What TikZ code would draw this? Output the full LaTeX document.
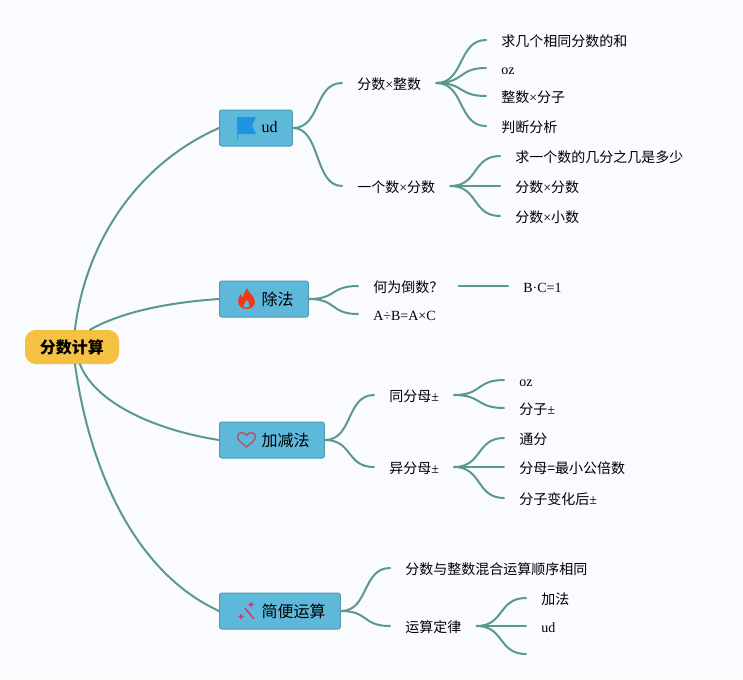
\documentclass[tikz,border=0pt]{standalone}
\usepackage{fontspec}
\setmainfont{Liberation Serif}
\newfontfamily\cjk{Noto Sans CJK SC}
\newcommand{\zh}[1]{{\cjk #1}}
\definecolor{bgc}{HTML}{F9FBFF}
\definecolor{edgec}{HTML}{5B9A8B}
\definecolor{boxc}{HTML}{5DB8DA}
\definecolor{boxl}{HTML}{4F9BAE}
\definecolor{rootc}{HTML}{F5C143}
\tikzset{
  x=0.75pt,y=-0.75pt,
  edge/.style={draw=edgec,line width=1.5pt,line cap=round},
  topic/.style={anchor=west,inner xsep=11.25pt,inner ysep=0pt,text height=11pt,text depth=1.5pt,font=\fontsize{10.5}{12}\selectfont,text=black},
  boxn/.style={anchor=west,rectangle,rounded corners=1.8pt,fill=boxc,draw=boxl,line width=0.75pt,minimum height=27pt,inner xsep=0pt,inner ysep=0pt,font=\fontsize{12}{14}\selectfont,text=black},
  rootn/.style={rectangle,rounded corners=8pt,fill=rootc,minimum width=70.5pt,minimum height=25.5pt,inner sep=0pt,font=\fontsize{12}{14}\selectfont\bfseries,text=black},
}
\newcommand{\boxt}[1]{\hspace*{31.5pt}#1\hspace*{11.2pt}}
\newcommand{\conn}[2]{\draw[edge] (#1) .. controls +(28,0) and +(-28,0) .. (#2);}
\begin{document}
\begin{tikzpicture}
\path[use as bounding box,fill=bgc] (0,0) rectangle (743,679);

\node[rootn] (root) at (72,347) {\cjk\bfseries 分数计算};
\node[boxn] (ud) at (219,128) {\boxt{\raisebox{2pt}{ud}}};
\node[boxn] (chu) at (219,299) {\boxt{\zh{除法}}};
\node[boxn] (jia) at (219,440) {\boxt{\zh{加减法}}};
\node[boxn] (jian) at (219,611) {\boxt{\zh{简便运算}}};

\coordinate (r1) at ([xshift=2.2pt]root.north);
\coordinate (r2) at ([xshift=13.5pt]root.north);
\coordinate (r3) at ([xshift=6pt]root.south);
\coordinate (r4) at ([xshift=2.25pt]root.south);
\draw[edge] (r1) .. controls (85,245) and (135,165) .. (ud.west);
\draw[edge] (r2) .. controls (125,310) and (175,302) .. (chu.west);
\draw[edge] (r3) .. controls (95,403) and (155,430) .. (jia.west);
\draw[edge] (r4) .. controls (88,460) and (130,570) .. (jian.west);

% second level
\node[topic] (a) at (342,83) {\zh{分数}×\zh{整数}};
\node[topic] (b) at (342,186) {\zh{一个数}×\zh{分数}};
\node[topic] (c) at (358,286) {\zh{何为倒数？}};
\node[topic] (d) at (358,314) {A÷B=A×C};
\node[topic] (e) at (374,395) {\zh{同分母}±};
\node[topic] (f) at (374,467) {\zh{异分母}±};
\node[topic] (g) at (390,568) {\zh{分数与整数混合运算顺序相同}};
\node[topic] (h) at (390,626) {\zh{运算定律}};

\conn{ud.east}{a.west}
\conn{ud.east}{b.west}
\conn{chu.east}{c.west}
\conn{chu.east}{d.west}
\conn{jia.east}{e.west}
\conn{jia.east}{f.west}
\conn{jian.east}{g.west}
\conn{jian.east}{h.west}

% leaves
\node[topic] (a1) at (486,40) {\zh{求几个相同分数的和}};
\node[topic] (a2) at (486,68) {oz};
\node[topic] (a3) at (486,96) {\zh{整数}×\zh{分子}};
\node[topic] (a4) at (486,126) {\zh{判断分析}};
\node[topic] (b1) at (500,156) {\zh{求一个数的几分之几是多少}};
\node[topic] (b2) at (500,186) {\zh{分数}×\zh{分数}};
\node[topic] (b3) at (500,216) {\zh{分数}×\zh{小数}};
\node[topic] (c1) at (508,286) {B·C=1};
\node[topic] (e1) at (504,380) {oz};
\node[topic] (e2) at (504,408) {\zh{分子}±};
\node[topic] (f1) at (504,438) {\zh{通分}};
\node[topic] (f2) at (504,467) {\zh{分母=最小公倍数}};
\node[topic] (f3) at (504,498) {\zh{分子变化后}±};
\node[topic] (h1) at (526,598) {\zh{加法}};
\node[topic] (h2) at (526,626) {ud};
\coordinate (h3) at (526,654);

\foreach \p/\q in {a/a1,a/a2,a/a3,a/a4,b/b1,b/b2,b/b3,c/c1,e/e1,e/e2,f/f1,f/f2,f/f3,h/h1,h/h2}
  {\conn{\p.east}{\q.west}}
\conn{h.east}{h3}

% icons
\fill[color={rgb,255:red,28;green,150;blue,224}] (237,117) -- (256,117) -- (252,125.5) -- (256,134) -- (238,134) -- (238,139) -- (237,139) -- cycle;

\fill[color={rgb,255:red,240;green,58;blue,23}] (247,288)
  .. controls (248,293) and (255,296) .. (255,302)
  .. controls (255,306) and (251,309) .. (246.5,309)
  .. controls (242,309) and (238,306) .. (238,301)
  .. controls (238,298) and (240,295) .. (241,294)
  .. controls (241,296) and (242,297) .. (243,297)
  .. controls (244,294) and (245,291) .. (247,288) -- cycle;
\fill[boxc] (247,300) .. controls (248,302) and (250,304) .. (249.5,306)
  .. controls (249,308) and (244,308) .. (243.5,306)
  .. controls (243,304) and (246,303) .. (247,300) -- cycle;

\draw[color={rgb,255:red,184;green,80;blue,96},line width=1pt,line join=round]
  (246.5,447) .. controls (242,443) and (237.5,440) .. (237.5,437)
  .. controls (237.5,432) and (244,431) .. (246.5,435.5)
  .. controls (249,431) and (255.5,432) .. (255.5,437)
  .. controls (255.5,440) and (251,443) .. (246.5,447) -- cycle;

\draw[color={rgb,255:red,216;green,50;blue,122},line width=1.1pt] (245,608) -- (254,619);
\fill[color={rgb,255:red,216;green,50;blue,122}]
  (251,601.5) -- (252,603.5) -- (254,604.5) -- (252,605.5) -- (251,607.5) -- (250,605.5) -- (248,604.5) -- (250,603.5) -- cycle
  (241,613.5) -- (242,615.5) -- (244,616.5) -- (242,617.5) -- (241,619.5) -- (240,617.5) -- (238,616.5) -- (240,615.5) -- cycle
  (247,611) circle (0.6pt);
\end{tikzpicture}
\end{document}
